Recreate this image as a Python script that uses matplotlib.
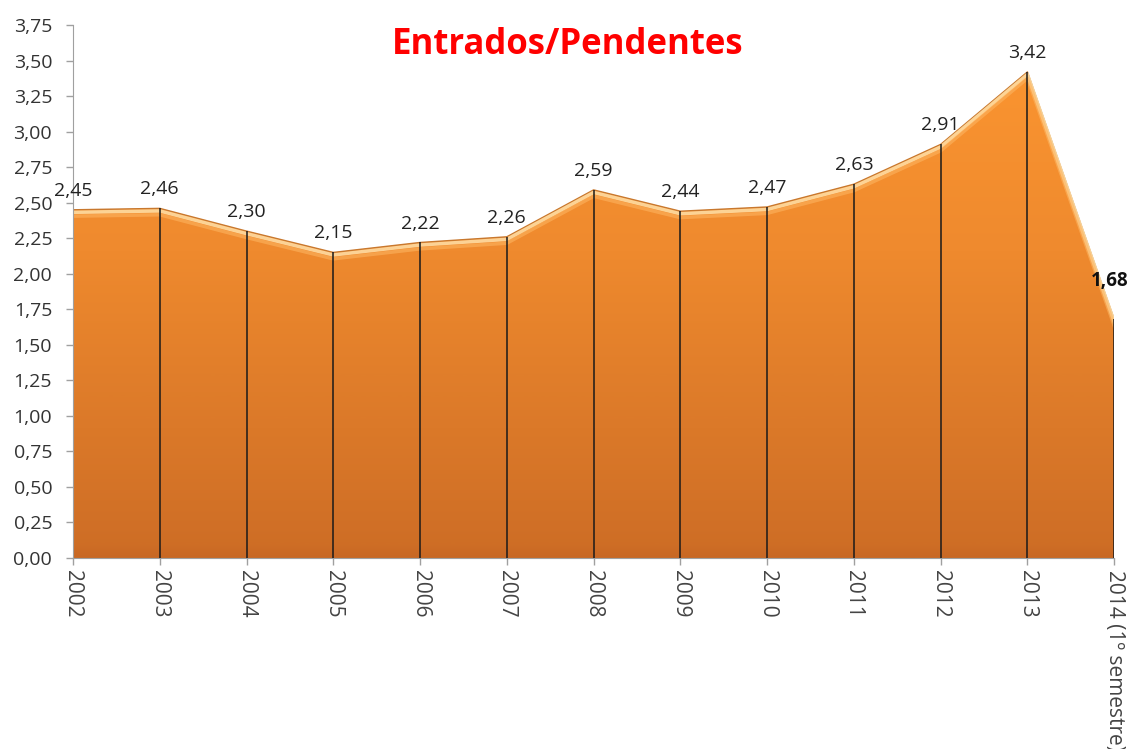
import numpy as np
import matplotlib.pyplot as plt
from matplotlib.patches import Polygon
from matplotlib.colors import LinearSegmentedColormap

anos = ["2002", "2003", "2004", "2005", "2006", "2007", "2008", "2009",
        "2010", "2011", "2012", "2013", "2014 (1º semestre)"]
valores = [2.45, 2.46, 2.30, 2.15, 2.22, 2.26, 2.59, 2.44, 2.47, 2.63, 2.91, 3.42, 1.68]
rotulos = ["2,45", "2,46", "2,30", "2,15", "2,22", "2,26", "2,59", "2,44",
           "2,47", "2,63", "2,91", "3,42", "1,68"]
yticks = [0, 0.25, 0.5, 0.75, 1.0, 1.25, 1.5, 1.75, 2.0, 2.25, 2.5, 2.75, 3.0, 3.25, 3.5, 3.75]

x = np.arange(len(valores))
plt.rcParams['font.family'] = ['Open Sans', 'DejaVu Sans']

fig = plt.figure(figsize=(11.3, 7.49), dpi=100)
ax = fig.add_axes([0.0646, 0.255, 0.9214, 0.7116])
ax.set_xlim(0, len(valores) - 1)

# area com gradiente
cmap = LinearSegmentedColormap.from_list("lar", ["#c86824", "#db7929", "#ef8a2e", "#fa9430"])
grad = np.concatenate([np.linspace(0, 0.12, 8), np.linspace(0.12, 1, 248)]).reshape(-1, 1)
img = ax.imshow(grad, cmap=cmap, aspect="auto", origin="lower",
                extent=[0, len(valores) - 1, 0, max(valores)], zorder=1)
verts = [(0, 0)] + list(zip(x, valores)) + [(x[-1], 0)]
poly = Polygon(verts, closed=True, facecolor="none", edgecolor="none")
ax.add_patch(poly)
img.set_clip_path(poly)
ax.set_ylim(0, 3.75)

# contorno e brilho
ax.plot(x, valores, color="#c8782e", lw=1.0, zorder=2)
ax.plot(x, np.array(valores) - 0.018, color="#ffe0a8", lw=2.5, alpha=0.85, zorder=2)
ax.plot(x, np.array(valores) - 0.045, color="#fdb460", lw=2.5, alpha=0.6, zorder=2)

# linhas verticais
ax.vlines(x[1:], 0, valores[1:], color="#1a1a1a", lw=1.1, zorder=3)

# rótulos
for i, (v, t) in enumerate(zip(valores, rotulos)):
    if i == len(valores) - 1:
        ax.text(i - 0.05, v + 0.2, t, ha="center", va="bottom", fontsize=13.5,
                fontweight="bold", color="#111111", zorder=4)
    else:
        ax.text(i, v + 0.07, t, ha="center", va="bottom", fontsize=14,
                color="#222222", zorder=4)

ax.set_yticks(yticks)
ax.set_yticklabels([f"{t:.2f}".replace(".", ",") for t in yticks], fontsize=14, color="#333333")
ax.set_xticks(x)
ax.set_xticklabels(anos, rotation=270, fontsize=15, color="#444444", va="top", ha="center")

for s in ["top", "right"]:
    ax.spines[s].set_visible(False)
ax.spines["left"].set_color("#a0a0a0")
ax.spines["bottom"].set_color("#a0a0a0")
ax.tick_params(axis="both", color="#a0a0a0", length=5, width=1)
ax.tick_params(axis="y", pad=10)

fig.text(0.502, 0.94, "Entrados/Pendentes", color="#ff0000", fontsize=25,
         fontweight="bold", ha="center", va="center")

fig.savefig("out.png", dpi=100)
